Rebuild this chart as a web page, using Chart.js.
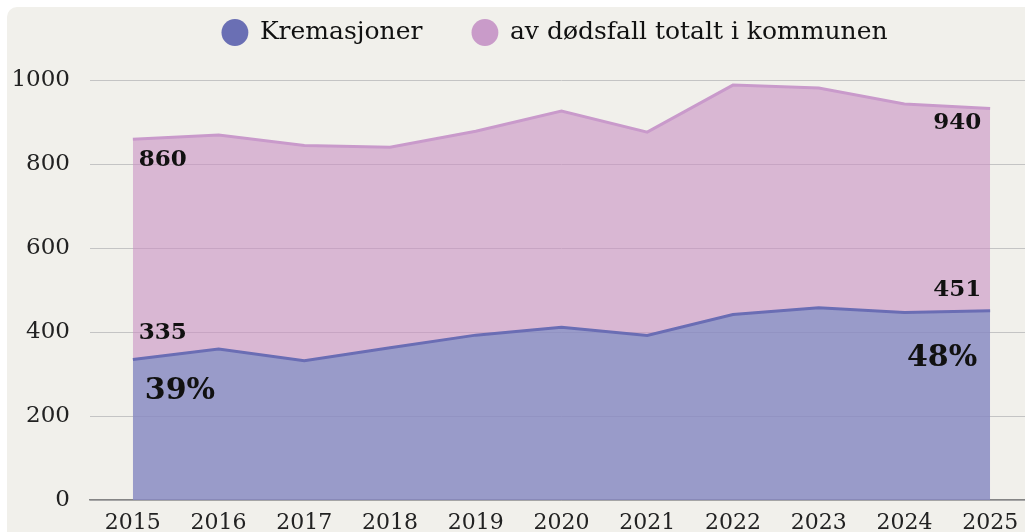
<!DOCTYPE html>
<html>
<head>
<meta charset="utf-8">
<script src="https://cdn.jsdelivr.net/npm/chart.js@4.4.1/dist/chart.umd.min.js"></script>
<style>
    html, body { margin: 0; padding: 0; background: #ffffff; overflow: hidden; width: 1025px; height: 532px; }
    #card { position: absolute; left: 7px; top: 7px; width: 1200px; height: 700px; background: #f1f0eb; border-radius: 10px; }
    #wrap { position: absolute; left: 0; top: 0; width: 1110px; height: 532px; }
</style>
</head>
<body>
<div id="card"></div>
<div id="wrap"><canvas id="chart_kremasjoner"></canvas></div>
<script>
var years = ['2015', '2016', '2017', '2018', '2019', '2020', '2021', '2022', '2023', '2024', '2025']
var kremasjoner = [335, 360, 332, 363, 393, 412, 392, 442, 458, 447, 451]
var dodsfall = [860, 870, 845, 841, 879, 927, 877, 989, 982, 944, 933]
var startLabels = ['860', '335', '39%']
var endLabels = ['940', '451', '48%']
var yTicks = [0, 200, 400, 600, 800, 1000]

var serif = '"DejaVu Serif", serif'
var blue = '#6a6db4'
var purple = '#c99acb'

// tall tal og prosent ved start og slutt av linjene
var pointLabels = {
    id: 'pointLabels',
    afterDatasetsDraw: function(chart) {
        var ctx = chart.ctx
        var sx = chart.scales.x
        var sy = chart.scales.y
        var last = years.length - 1
        var marks = [
            { i: 0, v: dodsfall[0], text: startLabels[0], dx: 6, dy: 21, size: 23, align: 'left' },
            { i: 0, v: kremasjoner[0], text: startLabels[1], dx: 6, dy: -26, size: 23, align: 'left' },
            { i: 0, v: kremasjoner[0], text: startLabels[2], dx: 12, dy: 32, size: 30, align: 'left' },
            { i: last, v: dodsfall[last], text: endLabels[0], dx: -9, dy: 14, size: 23, align: 'right' },
            { i: last, v: kremasjoner[last], text: endLabels[1], dx: -9, dy: -21, size: 23, align: 'right' },
            { i: last, v: kremasjoner[last], text: endLabels[2], dx: -13, dy: 47, size: 30, align: 'right' }
        ]
        ctx.save()
        ctx.fillStyle = '#111111'
        ctx.textBaseline = 'middle'
        marks.forEach(function(m) {
            ctx.font = 'bold ' + m.size + 'px ' + serif
            ctx.textAlign = m.align
            ctx.fillText(m.text, sx.getPixelForValue(m.i) + m.dx, sy.getPixelForValue(m.v) + m.dy)
        })
        ctx.restore()
    }
}

var ctx = document.getElementById('chart_kremasjoner')
var chartLine = new Chart(ctx, {
    type: 'line',
    data: {
        labels: years,
        datasets: [
            {
                label: 'Kremasjoner',
                data: kremasjoner,
                borderColor: blue,
                borderWidth: 3,
                backgroundColor: 'rgba(110,135,193,0.6)',
                fill: 'origin',
                tension: 0,
                pointRadius: 0,
                pointBackgroundColor: '#6a6fb4',
                pointBorderColor: '#6a6fb4',
                pointBorderWidth: 0
            },
            {
                label: 'av dødsfall totalt i kommunen',
                data: dodsfall,
                borderColor: purple,
                borderWidth: 3,
                backgroundColor: 'rgba(201,145,195,0.6)',
                fill: 'origin',
                tension: 0,
                pointRadius: 0,
                pointBackgroundColor: '#c99bc9',
                pointBorderColor: '#c99bc9',
                pointBorderWidth: 0
            }
        ]
    },
    options: {
        responsive: true,
        maintainAspectRatio: false,
        animation: false,
        layout: {
            padding: { top: -30, left: 0, right: 0, bottom: 0 }
        },
        plugins: {
            legend: {
                position: 'top',
                labels: {
                    usePointStyle: true,
                    pointStyle: 'circle',
                    boxWidth: 27,
                    boxHeight: 19,
                    padding: 50,
                    color: '#111111',
                    font: { family: serif, size: 25 }
                }
            },
            // tomrom mellom legend og plottet
            subtitle: {
                display: true,
                text: '',
                weight: 500,
                padding: 0,
                font: { size: 10, lineHeight: 2.55 }
            },
            tooltip: { enabled: false }
        },
        scales: {
            x: {
                offset: true,
                grid: { display: false },
                border: { display: true, color: '#858585', width: 1.5 },
                ticks: {
                    color: '#222222',
                    padding: 2,
                    font: { family: serif, size: 22 }
                },
                afterFit: function(scale) { scale.height = 32 }
            },
            y: {
                min: 0,
                max: 1000,
                border: { display: false },
                grid: { color: '#c4c4c4', lineWidth: 1, drawTicks: false },
                afterBuildTicks: function(scale) {
                    scale.ticks = yTicks.map(function(v) { return { value: v } })
                },
                ticks: {
                    color: '#222222',
                    padding: 20,
                    font: { family: serif, size: 23 },
                    callback: function(value) { return String(value) }
                },
                afterFit: function(scale) {
                    scale.width = 90
                    scale.paddingTop = 0
                    scale.paddingBottom = 0
                }
            },
            yRight: {
                position: 'right',
                display: true,
                grid: { display: false },
                border: { display: false },
                ticks: { display: false },
                afterFit: function(scale) { scale.width = 77 }
            }
        }
    },
    plugins: [pointLabels]
});
</script>
</body>
</html>
